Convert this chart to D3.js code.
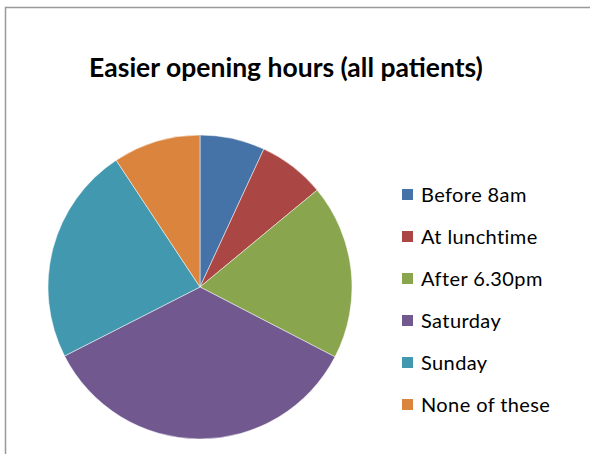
<html>
<head>
<meta charset="utf-8">
<style>
  body { margin: 0; padding: 0; background: #fff; font-family: Lato, "Open Sans", sans-serif; }
  .title { font-weight: bold; font-size: 26.5px; fill: #000; }
  .legend text { font-size: 20px; letter-spacing: 0.4px; fill: #000; }
</style>
</head>
<body>
<div id="chart"></div>
<script src="https://d3js.org/d3.v7.min.js"></script>
<script>
var categories = ["Before 8am", "At lunchtime", "After 6.30pm", "Saturday", "Sunday", "None of these"];
var values = [6.9, 7.1, 18.6, 34.9, 23.2, 9.3];
var colours = ["#4572A7", "#AA4643", "#89A54E", "#71588F", "#4198AF", "#DB843D"];

var width = 590, height = 454;

var svg = d3.select("#chart").append("svg")
    .attr("width", width)
    .attr("height", height);

// chart frame
svg.append("rect")
    .attr("x", 5.5).attr("y", 7.5)
    .attr("width", 600).attr("height", 460)
    .attr("fill", "none")
    .attr("stroke", "#999")
    .attr("stroke-width", 1.5);

svg.append("text")
    .attr("class", "title")
    .attr("x", 286).attr("y", 77)
    .attr("text-anchor", "middle")
    .text("Easier opening hours (all patients)");

var data = categories.map(function (c, i) { return { name: c, value: values[i] }; });

var pie = d3.pie().sort(null).value(function (d) { return d.value; });
var arc = d3.arc().innerRadius(0).outerRadius(152);
var colour = d3.scaleOrdinal().domain(categories).range(colours);

svg.append("g")
    .attr("transform", "translate(200,287)")
    .selectAll("path")
    .data(pie(data))
    .enter()
    .append("path")
    .attr("d", arc)
    .attr("fill", function (d) { return colour(d.data.name); })
    .attr("stroke", "#fff")
    .attr("stroke-width", 0.5);

var legend = svg.append("g").attr("class", "legend")
    .attr("transform", "translate(402,195)");

var y = d3.scalePoint().domain(categories).range([0, 210]);

var item = legend.selectAll("g")
    .data(categories)
    .enter()
    .append("g")
    .attr("transform", function (d) { return "translate(0," + y(d) + ")"; });

item.append("rect")
    .attr("x", 0).attr("y", -6)
    .attr("width", 11).attr("height", 11)
    .attr("fill", function (d) { return colour(d); });

item.append("text")
    .attr("x", 19).attr("y", 7)
    .text(function (d) { return d; });
</script>
</body>
</html>
